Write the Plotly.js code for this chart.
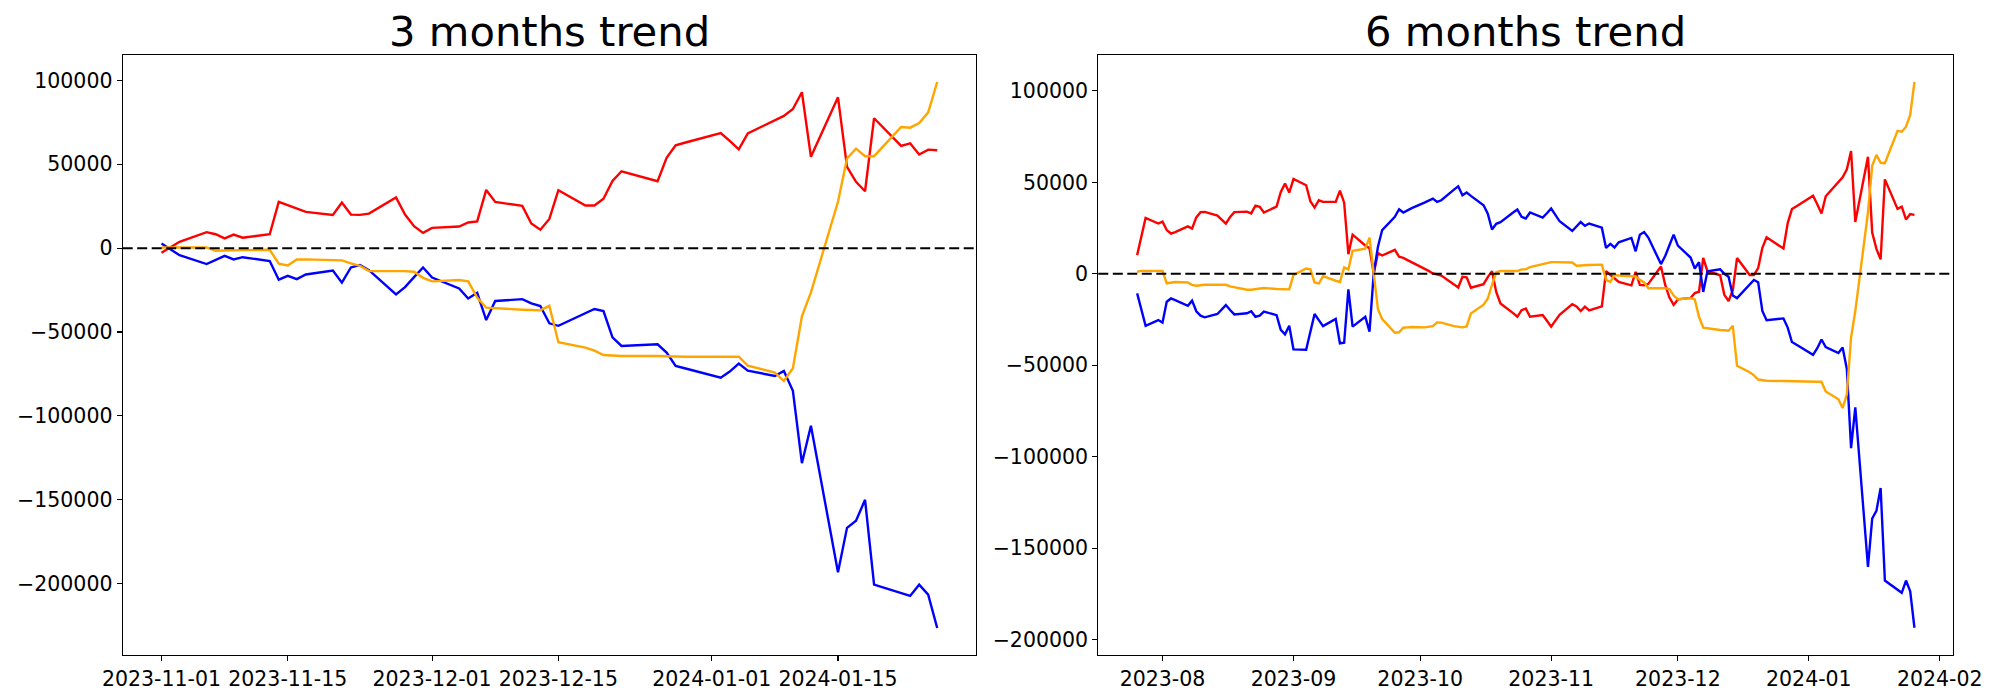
<!DOCTYPE html>
<html><head><meta charset="utf-8">
<script src="https://cdn.plot.ly/plotly-3.0.1.min.js"></script>
<style>html,body{margin:0;padding:0;background:#fff}#chart{width:2000px;height:700px}</style>
</head><body><div id="chart"></div>
<script>
// ---------- 3 months panel ----------
const leftDates = ['2023-11-01','2023-11-02','2023-11-03',
 '2023-11-06','2023-11-07','2023-11-08','2023-11-09','2023-11-10',
 '2023-11-13','2023-11-14','2023-11-15','2023-11-16','2023-11-17',
 '2023-11-20','2023-11-21','2023-11-22','2023-11-23','2023-11-24',
 '2023-11-27','2023-11-28','2023-11-29','2023-11-30','2023-12-01',
 '2023-12-04','2023-12-05','2023-12-06','2023-12-07','2023-12-08',
 '2023-12-11','2023-12-12','2023-12-13','2023-12-14','2023-12-15',
 '2023-12-18','2023-12-19','2023-12-20','2023-12-21','2023-12-22',
 '2023-12-26','2023-12-27','2023-12-28','2023-12-29',
 '2024-01-02','2024-01-03','2024-01-04','2024-01-05',
 '2024-01-08','2024-01-09','2024-01-10','2024-01-11','2024-01-12',
 '2024-01-15','2024-01-16','2024-01-17','2024-01-18','2024-01-19',
 '2024-01-22','2024-01-23','2024-01-24','2024-01-25','2024-01-26'];

const leftRed = [-2800,500,3800,9500,8300,5800,8100,6200,8300,27600,25600,23600,21600,19800,27200,20000,19800,20600,30200,20000,13100,9100,
 12100,12900,15300,15900,34700,27500,25200,14700,11000,17400,34500,25400,25400,29400,40100,45800,39900,53800,61300,62800,
 68600,63900,58900,68400,76200,78800,82900,92900,54400,89900,48400,39500,33900,77400,61000,62500,55800,58700,58300];

const leftBlue = [2800,-700,-4200,-9500,-7100,-4600,-6700,-5400,-7700,-18800,-16500,-18500,-15700,-13300,-20600,-11500,-10100,-13100,-27600,-23200,-17300,-11500,
 -17500,-24000,-30000,-26600,-42900,-31500,-30400,-32900,-34500,-44800,-46300,-38900,-36300,-37500,-53200,-58300,-57300,-62300,-70200,-71600,
 -77200,-73600,-68800,-73000,-76200,-73200,-85000,-128200,-105900,-193200,-166700,-162500,-150000,-200600,-205500,-207300,-200600,-206500,-226400];

const leftOrange = [400,400,400,400,-1600,-1400,-1400,-1200,-1000,-9300,-10300,-6800,-6700,-7100,-7300,-9100,-10500,-13700,-13500,-13700,-14100,-17700,
 -19800,-19000,-19800,-29500,-35500,-35900,-36700,-36900,-37100,-34400,-56100,-59300,-61100,-63700,-64100,-64300,-64300,-64500,-64500,-64700,
 -64700,-64700,-64700,-70000,-74200,-79200,-71600,-40600,-26400,27600,53400,59300,54800,54800,72200,71800,74600,80900,99000];

const leftTickVals = ['2023-11-01','2023-11-15','2023-12-01','2023-12-15','2024-01-01','2024-01-15'];
const leftTickText = ['2023-11-01','2023-11-15','2023-12-01','2023-12-15','2024-01-01','2024-01-15'];

// ---------- 6 months panel ----------
const rightDates = ['2023-07-26','2023-07-27','2023-07-28','2023-07-31',
 '2023-08-01','2023-08-02','2023-08-03','2023-08-04',
 '2023-08-07','2023-08-08','2023-08-09','2023-08-10','2023-08-11',
 '2023-08-14','2023-08-15','2023-08-16','2023-08-17','2023-08-18',
 '2023-08-21','2023-08-22','2023-08-23','2023-08-24','2023-08-25',
 '2023-08-28','2023-08-29','2023-08-30','2023-08-31','2023-09-01',
 '2023-09-04','2023-09-05','2023-09-06','2023-09-07','2023-09-08',
 '2023-09-11','2023-09-12','2023-09-13','2023-09-14','2023-09-15',
 '2023-09-18','2023-09-19','2023-09-20','2023-09-21','2023-09-22',
 '2023-09-25','2023-09-26','2023-09-27','2023-09-28','2023-09-29',
 '2023-10-02','2023-10-03','2023-10-04','2023-10-05','2023-10-06',
 '2023-10-09','2023-10-10','2023-10-11','2023-10-12','2023-10-13',
 '2023-10-16','2023-10-17','2023-10-18','2023-10-19','2023-10-20',
 '2023-10-23','2023-10-24','2023-10-25','2023-10-26','2023-10-27',
 '2023-10-30','2023-10-31',
 '2023-11-01','2023-11-02','2023-11-03',
 '2023-11-06','2023-11-07','2023-11-08','2023-11-09','2023-11-10',
 '2023-11-13','2023-11-14','2023-11-15','2023-11-16','2023-11-17',
 '2023-11-20','2023-11-21','2023-11-22','2023-11-23','2023-11-24',
 '2023-11-27','2023-11-28','2023-11-29','2023-11-30','2023-12-01',
 '2023-12-04','2023-12-05','2023-12-06','2023-12-07','2023-12-08',
 '2023-12-11','2023-12-12','2023-12-13','2023-12-14','2023-12-15',
 '2023-12-18','2023-12-19','2023-12-20','2023-12-21','2023-12-22',
 '2023-12-26','2023-12-27','2023-12-28','2023-12-29',
 '2024-01-02','2024-01-03','2024-01-04','2024-01-05',
 '2024-01-08','2024-01-09','2024-01-10','2024-01-11','2024-01-12',
 '2024-01-15','2024-01-16','2024-01-17','2024-01-18','2024-01-19',
 '2024-01-22','2024-01-23','2024-01-24','2024-01-25','2024-01-26'];

const rightRed = [10200,20500,30600,27500,
 28500,23900,22000,22800,
 25900,24700,30800,33700,33800,
 31800,29600,27400,31000,33700,
 34000,33000,37300,36600,33500,
 36700,44800,49300,44400,51800,
 48400,39700,36200,40200,39300,
 39300,45500,38900,10700,21400,
 15500,14000,200,11300,10000,
 13100,9300,8700,7500,6400,
 3000,1600,200,-300,-1000,
 -5800,-7500,-1600,-1900,-7600,
 -5700,-1800,1400,-9900,-16200,
 -21500,-23500,-19900,-19000,-23500,
 -22600,-25700,
 -28900,-25600,-22400,
 -16600,-17800,-20400,-18000,-20000,
 -17800,1400,-500,-2500,-4500,
 -6300,1000,-6100,-6300,-5500,
 4000,-6100,-13000,-17000,-14000,
 -13200,-10500,-9800,8700,1400,
 -800,-11500,-14900,-9000,8600,
 -700,-700,3100,14200,20000,
 13800,27700,35400,36800,
 42700,38000,33000,42400,
 49900,52800,57100,67100,28300,
 64000,22600,13600,7900,51600,
 35500,36700,29700,32700,32200];

const rightBlue = [-10700,-19800,-28500,-25300,
 -26700,-15300,-13500,-14400,
 -17500,-14700,-20500,-22900,-23800,
 -22000,-19600,-17100,-19800,-22200,
 -21600,-20500,-23500,-22900,-20700,
 -22600,-30700,-33100,-28400,-41300,
 -41500,-31700,-22000,-25300,-28600,
 -24700,-38000,-37700,-8500,-28900,
 -23500,-31600,200,14800,23900,
 31100,35300,33500,34800,35900,
 38900,40200,41100,39300,40200,
 46000,47800,42900,44400,42600,
 37500,32900,24200,27300,28200,
 33500,35100,31100,30200,33500,
 30700,33100,
 35700,32200,28700,
 23400,25800,28300,26200,27500,
 25200,14100,16400,14400,17200,
 19600,12300,21400,22800,19800,
 5300,9700,15600,21400,15400,
 8900,2900,6300,-9900,1400,
 2500,0,-1600,-11900,-13300,
 -6000,-3400,-4600,-20300,-25400,
 -24400,-29400,-37300,-38700,
 -44300,-40700,-35900,-40100,
 -43300,-40300,-52000,-95300,-73000,
 -160300,-133800,-129600,-117100,-167700,
 -172600,-174400,-167700,-173600,-193500];

const rightOrange = [1100,1600,1600,1600,
 1600,-5200,-4700,-4500,
 -4700,-6100,-6500,-6100,-6000,
 -6000,-6000,-6000,-6900,-7400,
 -8700,-8700,-8500,-8300,-7800,
 -8300,-8500,-8500,-8500,-700,
 2900,2400,-4700,-5300,-1300,
 -3800,-4500,3500,2400,12600,
 13700,19800,200,-19400,-24700,
 -32200,-32000,-29500,-29300,-29100,
 -29300,-28900,-28600,-26600,-26700,
 -28600,-28900,-29300,-28800,-21700,
 -16900,-13500,-6000,800,1500,
 1500,1500,2400,2400,3700,
 5500,6000,
 6400,6400,6300,
 6200,4400,4600,4600,4800,
 5000,-3300,-4400,-700,-900,
 -1300,-1500,-3300,-4700,-7900,
 -7700,-7900,-8300,-11900,-13900,
 -13300,-14000,-23500,-29500,-29900,
 -30700,-30900,-31100,-28400,-50300,
 -53800,-55500,-57800,-58200,-58500,
 -58600,-58700,-58800,-58900,
 -59000,-59000,-59000,-64300,
 -68600,-73400,-65900,-34800,-20400,
 33600,59000,65000,60700,60500,
 78100,77700,80400,86800,104900];

const rightTickVals = ['2023-08-01','2023-09-01','2023-10-01','2023-11-01','2023-12-01','2024-01-01','2024-02-01'];
const rightTickText = ['2023-08','2023-09','2023-10','2023-11','2023-12','2024-01','2024-02'];

const yTickVals = [-200000,-150000,-100000,-50000,0,50000,100000];
const yTickText = ['\u2212200000','\u2212150000','\u2212100000','\u221250000','0','50000','100000'];

const titles = ['3 months trend','6 months trend'];
const seriesColors = {red:'#ff0000', blue:'#0000ff', orange:'#ffa500'};
const zeroLevel = 0;

// ---------- figure ----------
const FONT = 'DejaVu Sans, Verdana, sans-serif';
const lw = 2.4;
function tr(x, y, color, xa, ya){
  return {x:x, y:y, type:'scatter', mode:'lines', xaxis:xa, yaxis:ya,
          line:{color:color, width:lw}, hoverinfo:'skip'};
}
const data = [
  tr(leftDates, leftRed, seriesColors.red, 'x', 'y'),
  tr(leftDates, leftBlue, seriesColors.blue, 'x', 'y'),
  tr(leftDates, leftOrange, seriesColors.orange, 'x', 'y'),
  tr(rightDates, rightRed, seriesColors.red, 'x2', 'y2'),
  tr(rightDates, rightBlue, seriesColors.blue, 'x2', 'y2'),
  tr(rightDates, rightOrange, seriesColors.orange, 'x2', 'y2')
];

const axCommon = {showgrid:false, zeroline:false, showline:true, linecolor:'#000', linewidth:1.1,
  mirror:true, ticks:'outside', ticklen:5, tickwidth:1.1, tickcolor:'#000',
  tickfont:{family:FONT, size:20.5, color:'#000'}};
const yDomain = [0.0643, 0.9214];
const layout = {
  width:2000, height:700,
  margin:{l:0, r:0, t:0, b:0},
  paper_bgcolor:'#fff', plot_bgcolor:'#fff',
  showlegend:false,
  font:{family:FONT, color:'#000'},
  xaxis:Object.assign({}, axCommon, {domain:[0.06135,0.488], anchor:'y', type:'date',
    range:['2023-10-27 16:48:00','2024-01-30 07:12:00'], tickmode:'array',
    tickvals:leftTickVals, ticktext:leftTickText}),
  yaxis:Object.assign({}, axCommon, {domain:yDomain, anchor:'x',
    range:[-242500,115100], tickmode:'array', tickvals:yTickVals, ticktext:yTickText}),
  xaxis2:Object.assign({}, axCommon, {domain:[0.54915,0.97665], anchor:'y2', type:'date',
    range:['2023-07-16 19:12:00','2024-02-04 04:48:00'], tickmode:'array',
    tickvals:rightTickVals, ticktext:rightTickText}),
  yaxis2:Object.assign({}, axCommon, {domain:yDomain, anchor:'x2',
    range:[-208400,119600], tickmode:'array', tickvals:yTickVals, ticktext:yTickText}),
  shapes:[
    {type:'line', xref:'x domain', yref:'y', x0:0, x1:1, y0:zeroLevel, y1:zeroLevel, layer:'above',
     line:{color:'#000', width:2, dash:'10px,4.5px'}},
    {type:'line', xref:'x2 domain', yref:'y2', x0:0, x1:1, y0:zeroLevel, y1:zeroLevel, layer:'above',
     line:{color:'#000', width:2, dash:'10px,4.5px'}}
  ],
  annotations:[
    {text:titles[0], xref:'paper', yref:'paper', x:(0.06135+0.488)/2, y:0.9176, xanchor:'center', yanchor:'bottom',
     showarrow:false, font:{family:FONT, size:41.7, color:'#000'}},
    {text:titles[1], xref:'paper', yref:'paper', x:(0.54915+0.97665)/2, y:0.9176, xanchor:'center', yanchor:'bottom',
     showarrow:false, font:{family:FONT, size:41.7, color:'#000'}}
  ]
};
Plotly.newPlot('chart', data, layout, {staticPlot:true, displayModeBar:false});
</script></body></html>
